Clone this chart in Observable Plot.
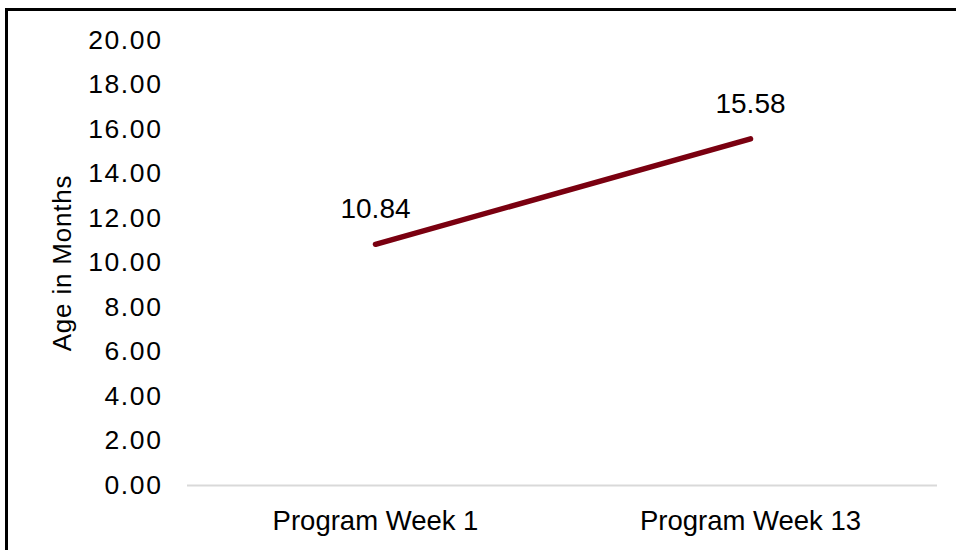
<!DOCTYPE html>
<html>
<head>
<meta charset="utf-8">
<script src="https://cdn.jsdelivr.net/npm/d3@7"></script>
<script src="https://cdn.jsdelivr.net/npm/@observablehq/plot@0.6"></script>
<style>
  html, body { margin: 0; padding: 0; background: #fff; overflow: hidden; }
  #wrap { position: relative; width: 956px; height: 550px; }
  #border { position: absolute; left: 5px; top: 8px; width: 1000px; height: 600px; border: 3px solid #000; box-sizing: border-box; }
  #chart { position: absolute; left: 0; top: 0; }
</style>
</head>
<body>
<div id="wrap"><div id="border"></div><div id="chart"></div></div>
<script>
const categories = ["Program Week 1", "Program Week 13"];
const values = [10.84, 15.58];
const yTicks = [0, 2, 4, 6, 8, 10, 12, 14, 16, 18, 20];

const data = categories.map((c, i) => ({category: c, value: values[i]}));

const chart = Plot.plot({
  width: 956,
  height: 550,
  marginLeft: 187,
  marginRight: 19,
  marginTop: 40,
  marginBottom: 65,
  style: {background: "transparent", fontFamily: "Liberation Sans, Arial, sans-serif", fontSize: "26px", color: "#000"},
  x: {type: "point", domain: categories, padding: 0.5, label: null, tickSize: 0},
  y: {domain: [0, 20], label: null, tickSize: 0},
  marks: [
    Plot.ruleY([0], {stroke: "#d9d9d9", strokeWidth: 2}),
    Plot.axisY({ticks: yTicks, tickFormat: d => d.toFixed(2), tickSize: 0, tickPadding: 25, fontSize: 26.5, label: null, className: "yax"}),
    Plot.axisX({tickSize: 0, tickPadding: 25, fontSize: 27.5, label: null}),
    Plot.line(data, {x: "category", y: "value", stroke: "#7a0010", strokeWidth: 5.5, strokeLinecap: "round"}),
    Plot.text(data, {x: "category", y: "value", text: d => d.value.toFixed(2), dy: -35, fontSize: 28, fill: "#000"}),
    Plot.text(["Age in Months"], {frameAnchor: "left", textAnchor: "middle", text: d => d, rotate: -90, dx: -125, fontSize: 26, fill: "#000"})
  ]
});
d3.select(chart).selectAll("text").filter(function() { return /^\d+\.00$/.test(this.textContent); }).attr("letter-spacing", "1.6px");
d3.select(chart).selectAll("text").filter(function() { return this.textContent === "Age in Months"; }).attr("letter-spacing", "0.8px");
document.getElementById("chart").appendChild(chart);
</script>
</body>
</html>
